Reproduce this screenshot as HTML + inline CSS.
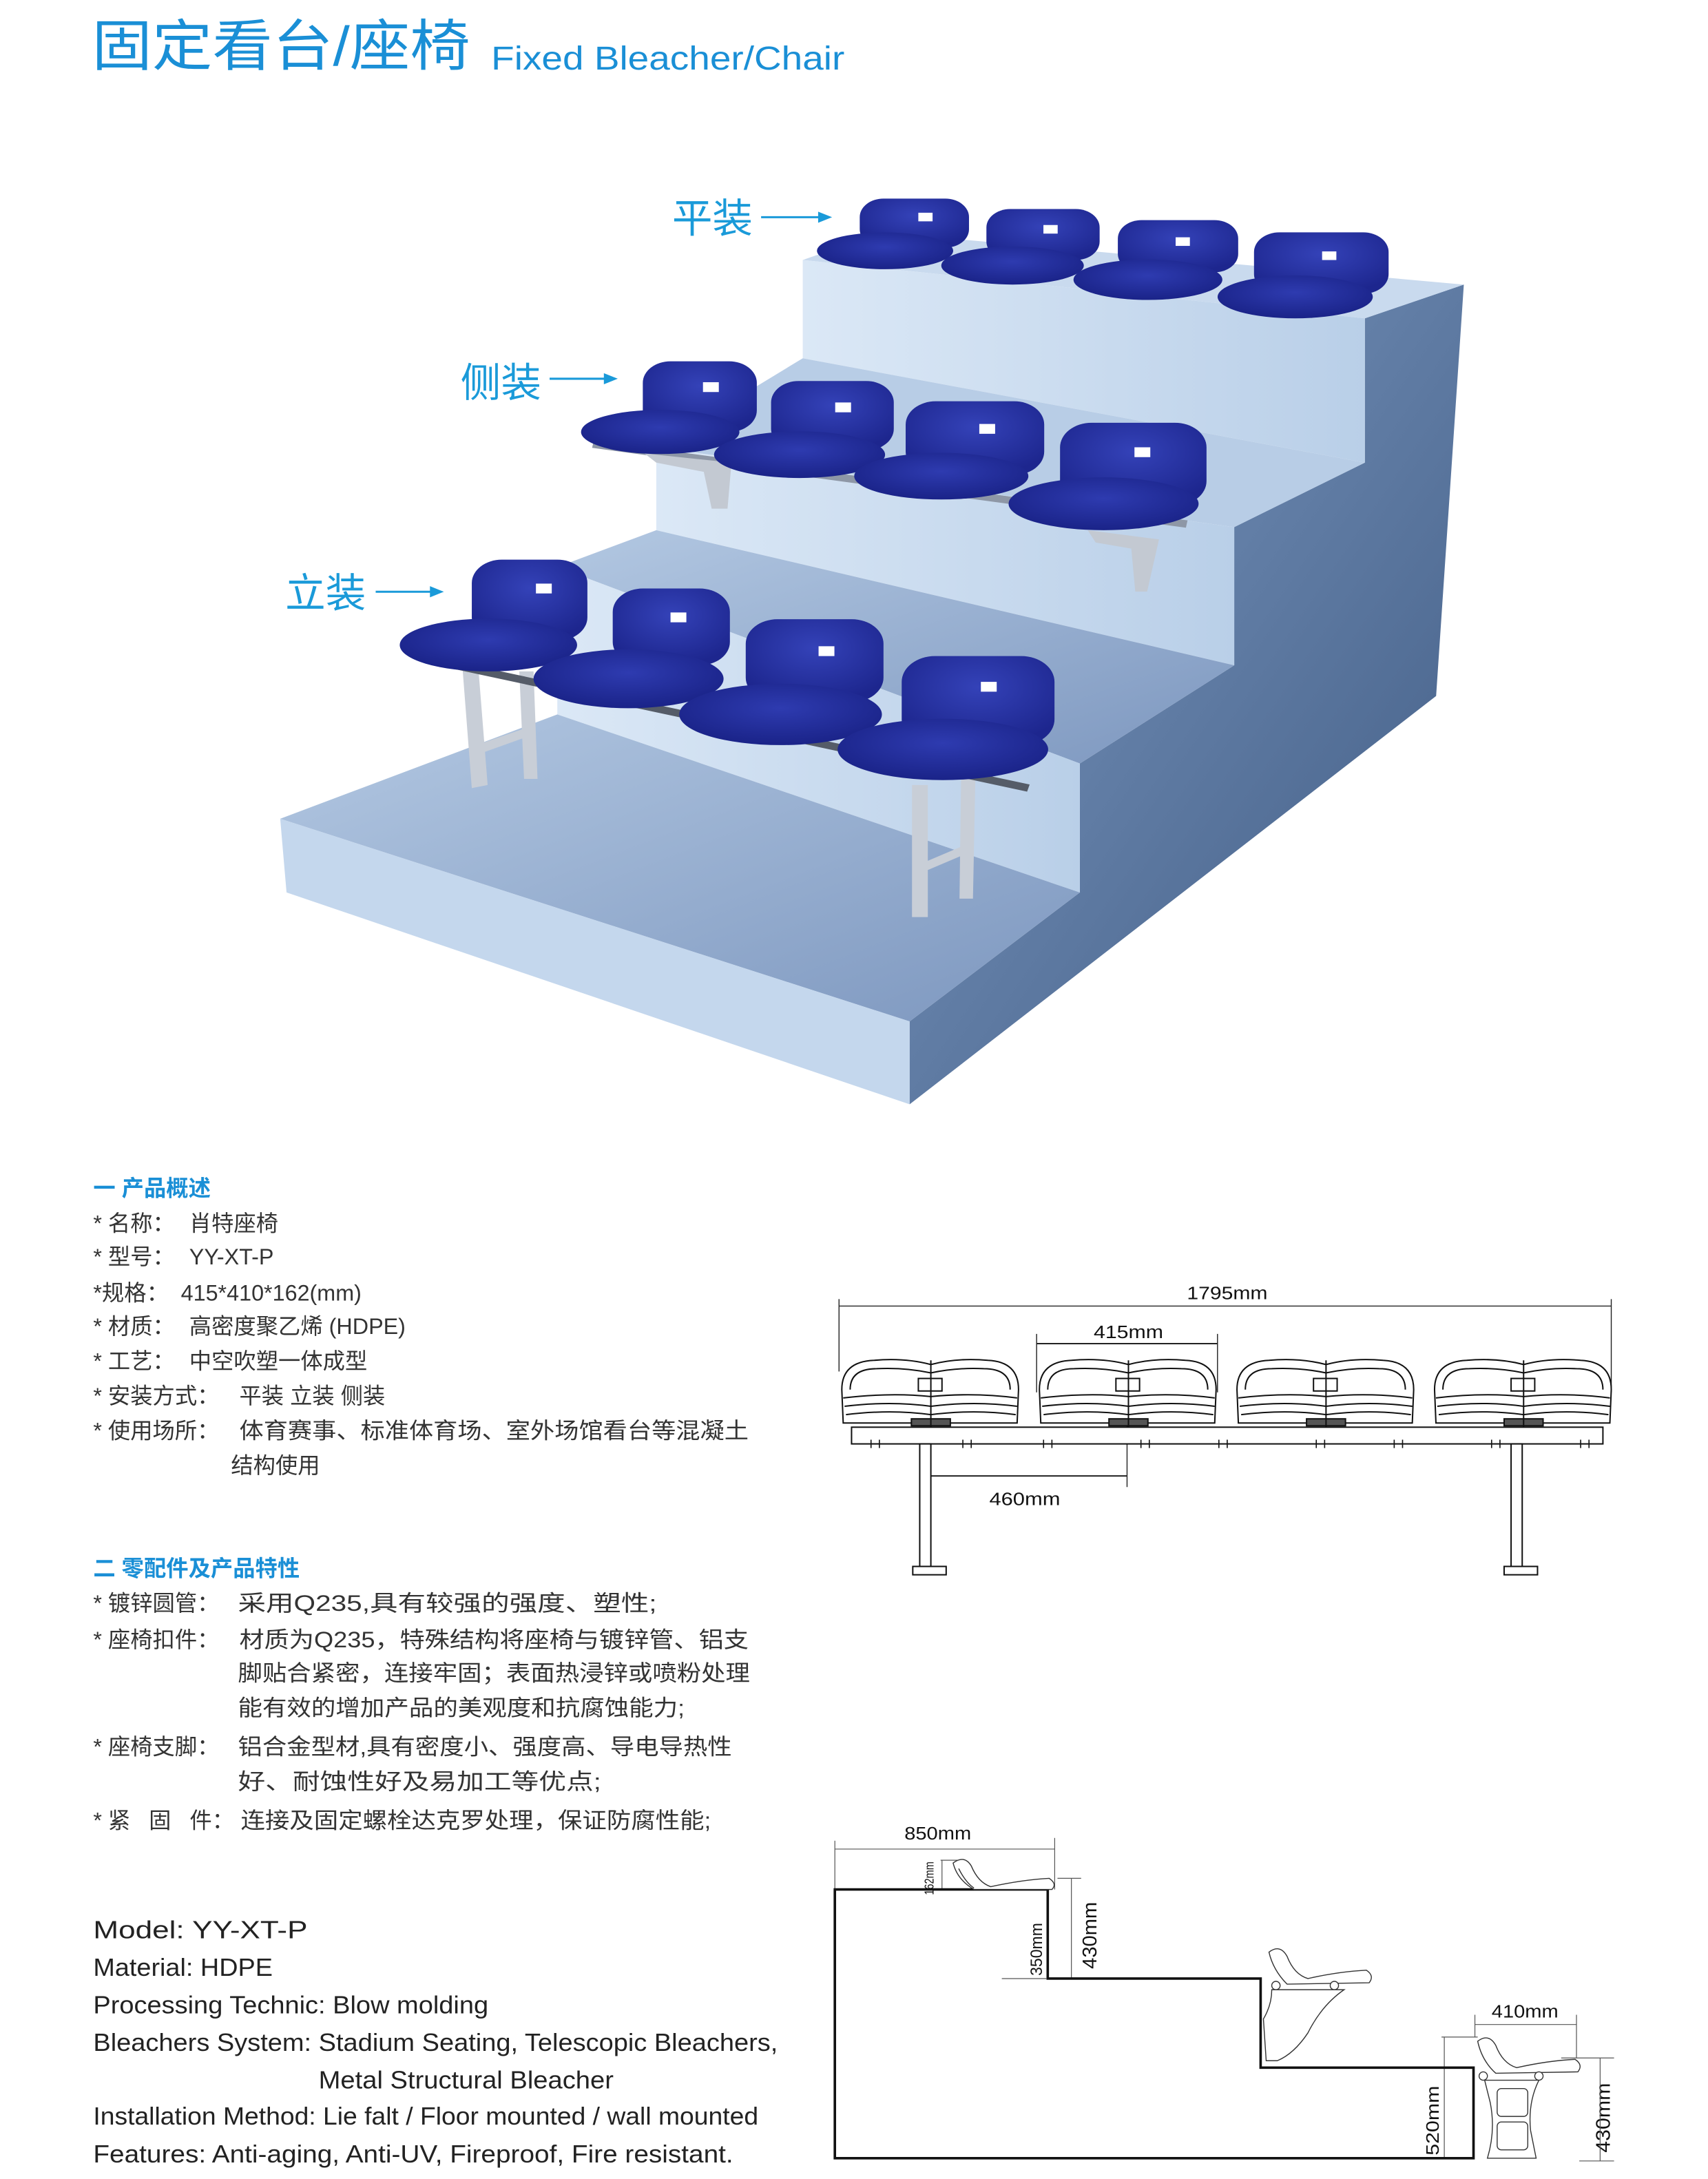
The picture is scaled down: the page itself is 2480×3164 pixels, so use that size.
<!DOCTYPE html>
<html><head><meta charset="utf-8"><style>
html,body{margin:0;padding:0;background:#fff;}
svg{display:block;}
</style></head><body>
<svg width="2480" height="3164" viewBox="0 0 1222 1559" preserveAspectRatio="none" xmlns="http://www.w3.org/2000/svg">
<defs>
<linearGradient id="side" x1="0" y1="0" x2="1" y2="1"><stop offset="0" stop-color="#7f9cc4"/><stop offset="1" stop-color="#3f5a82"/></linearGradient>
<linearGradient id="riser" x1="0" y1="0" x2="1" y2="0"><stop offset="0" stop-color="#dbe8f6"/><stop offset="1" stop-color="#b9cfe8"/></linearGradient>
<linearGradient id="tread" x1="0" y1="0" x2="1" y2="1"><stop offset="0" stop-color="#b3c8e2"/><stop offset="1" stop-color="#7d97bf"/></linearGradient>
<radialGradient id="pan" cx="0.5" cy="0.4" r="0.6"><stop offset="0" stop-color="#2e3bb0"/><stop offset="1" stop-color="#1a2388"/></radialGradient>
<radialGradient id="back" cx="0.5" cy="0.35" r="0.65"><stop offset="0" stop-color="#3442b8"/><stop offset="1" stop-color="#1d268e"/></radialGradient>
</defs>
<g transform="scale(0.9955,0.9962)">
<!-- Title -->
<text x="66" y="47" font-family="'Liberation Sans','Noto Sans CJK SC',sans-serif" font-size="40" fill="#1a8fd6" textLength="272" lengthAdjust="spacingAndGlyphs">固定看台/座椅</text>
<text x="353" y="50" font-family="'Liberation Sans',sans-serif" font-size="24" fill="#1a8fd6" textLength="254" lengthAdjust="spacingAndGlyphs">Fixed Bleacher/Chair</text>

<!-- 3D stairs -->
<g transform="translate(190,125) scale(0.569,0.441)">
 <polygon points="1390,235 1515,180 1480,850 815,1515 815,1380 1030,1170 1030,960 1225,800 1225,575 1390,470" fill="url(#side)"/>
 <polygon points="680,140 780,95 1515,180 1390,235" fill="#c9daee"/>
 <polygon points="680,140 1390,235 1390,470 680,300" fill="url(#riser)"/>
 <polygon points="495,445 680,300 1390,470 1225,575" fill="#b8cde6"/>
 <polygon points="495,445 1225,575 1225,800 495,580" fill="url(#riser)"/>
 <polygon points="370,640 495,580 1225,800 1030,960" fill="url(#tread)"/>
 <polygon points="370,640 1030,960 1030,1170 370,880" fill="url(#riser)"/>
 <polygon points="20,1050 370,880 1030,1170 815,1380" fill="url(#tread)"/>
 <polygon points="20,1050 815,1380 815,1515 28,1170" fill="#c4d7ed"/>

 <g>
  <rect x="752" y="40" width="138" height="80" rx="30" fill="url(#back)"/><ellipse cx="784" cy="125" rx="86" ry="30" fill="url(#pan)"/><rect x="826" y="63" width="18" height="14" fill="#fff"/>
  <rect x="912" y="57" width="143" height="83" rx="30" fill="url(#back)"/><ellipse cx="945" cy="149" rx="90" ry="31" fill="url(#pan)"/><rect x="984" y="83" width="18" height="14" fill="#fff"/>
  <rect x="1078" y="75" width="152" height="85" rx="30" fill="url(#back)"/><ellipse cx="1116" cy="172" rx="94" ry="33" fill="url(#pan)"/><rect x="1151" y="103" width="18" height="14" fill="#fff"/>
  <rect x="1250" y="95" width="170" height="100" rx="32" fill="url(#back)"/><ellipse cx="1302" cy="200" rx="98" ry="35" fill="url(#pan)"/><rect x="1336" y="126" width="18" height="14" fill="#fff"/>
 </g>
 <line x1="415" y1="440" x2="1165" y2="570" stroke="#8e97a6" stroke-width="12"/>
 <polygon points="480,455 590,470 585,545 565,545 555,485 495,470" fill="#c3c9d2"/>
 <polygon points="1040,580 1130,595 1115,680 1100,680 1095,610 1050,600" fill="#c3c9d2"/>
 <g>
  <rect x="478" y="305" width="144" height="115" rx="35" fill="url(#back)"/><ellipse cx="500" cy="420" rx="100" ry="36" fill="url(#pan)"/><rect x="554" y="339" width="20" height="16" fill="#fff"/>
  <rect x="640" y="337" width="155" height="113" rx="35" fill="url(#back)"/><ellipse cx="676" cy="457" rx="108" ry="38" fill="url(#pan)"/><rect x="721" y="372" width="20" height="16" fill="#fff"/>
  <rect x="810" y="370" width="175" height="120" rx="38" fill="url(#back)"/><ellipse cx="855" cy="492" rx="110" ry="38" fill="url(#pan)"/><rect x="903" y="407" width="20" height="16" fill="#fff"/>
  <rect x="1005" y="405" width="185" height="135" rx="40" fill="url(#back)"/><ellipse cx="1060" cy="537" rx="120" ry="43" fill="url(#pan)"/><rect x="1099" y="445" width="20" height="16" fill="#fff"/>
 </g>
 <g fill="#c8ced7">
  <polygon points="250,800 270,800 282,995 262,1000"/>
  <polygon points="322,810 340,810 345,985 328,985"/>
  <polygon points="268,930 335,900 335,915 270,945"/>
  <polygon points="818,995 838,995 838,1210 818,1210"/>
  <polygon points="880,985 898,985 895,1180 878,1180"/>
  <polygon points="835,1120 890,1090 890,1105 835,1135"/>
 </g>
 <line x1="240" y1="800" x2="965" y2="1000" stroke="#555c68" stroke-width="12"/>
 <g>
  <rect x="262" y="628" width="146" height="132" rx="38" fill="url(#back)"/><ellipse cx="283" cy="767" rx="112" ry="43" fill="url(#pan)"/><rect x="343" y="667" width="20" height="16" fill="#fff"/>
  <rect x="440" y="675" width="148" height="125" rx="38" fill="url(#back)"/><ellipse cx="460" cy="822" rx="120" ry="48" fill="url(#pan)"/><rect x="513" y="714" width="20" height="16" fill="#fff"/>
  <rect x="608" y="725" width="174" height="135" rx="40" fill="url(#back)"/><ellipse cx="652" cy="880" rx="128" ry="50" fill="url(#pan)"/><rect x="700" y="769" width="20" height="16" fill="#fff"/>
  <rect x="805" y="785" width="193" height="145" rx="42" fill="url(#back)"/><ellipse cx="857" cy="937" rx="133" ry="50" fill="url(#pan)"/><rect x="905" y="827" width="20" height="16" fill="#fff"/>
 </g>
</g>
<g font-family="'Liberation Sans','Noto Sans CJK SC',sans-serif" font-size="29" fill="#1a9ad9">
 <text x="483" y="167">平装</text>
 <text x="331" y="285">侧装</text>
 <text x="205" y="436">立装</text>
</g>
<g stroke="#1a9ad9" stroke-width="1.5" fill="#1a9ad9">
 <line x1="547" y1="156" x2="590" y2="156"/><polygon points="598,156 588,152 588,160" stroke="none"/>
 <line x1="395" y1="272" x2="436" y2="272"/><polygon points="444,272 434,268 434,276" stroke="none"/>
 <line x1="270" y1="425" x2="311" y2="425"/><polygon points="319,425 309,421 309,429" stroke="none"/>
</g>

<!-- Chinese text -->
<g font-family="'Liberation Sans','Noto Sans CJK SC',sans-serif" font-size="16" fill="#333">
 <text x="67" y="859" fill="#1a8fd6" font-weight="bold">一 产品概述</text>
 <text x="67" y="884">* 名称：</text><text x="136" y="884">肖特座椅</text>
 <text x="67" y="908">* 型号：</text><text x="136" y="908">YY-XT-P</text>
 <text x="67" y="934">*规格：</text><text x="130" y="934">415*410*162(mm)</text>
 <text x="67" y="958">* 材质：</text><text x="136" y="958">高密度聚乙烯 (HDPE)</text>
 <text x="67" y="983">* 工艺：</text><text x="136" y="983">中空吹塑一体成型</text>
 <text x="67" y="1008">* 安装方式：</text><text x="172" y="1008">平装 立装 侧装</text>
 <text x="67" y="1033">* 使用场所：</text><text x="172" y="1033" textLength="366" lengthAdjust="spacingAndGlyphs">体育赛事、标准体育场、室外场馆看台等混凝土</text>
 <text x="166" y="1058">结构使用</text>
 <text x="67" y="1132" fill="#1a8fd6" font-weight="bold">二 零配件及产品特性</text>
 <text x="67" y="1157">* 镀锌圆管：</text><text x="171" y="1157" textLength="301" lengthAdjust="spacingAndGlyphs">采用Q235,具有较强的强度、塑性;</text>
 <text x="67" y="1183">* 座椅扣件：</text><text x="172" y="1183" textLength="366" lengthAdjust="spacingAndGlyphs">材质为Q235，特殊结构将座椅与镀锌管、铝支</text>
 <text x="171" y="1207" textLength="368" lengthAdjust="spacingAndGlyphs">脚贴合紧密，连接牢固；表面热浸锌或喷粉处理</text>
 <text x="171" y="1232" textLength="321" lengthAdjust="spacingAndGlyphs">能有效的增加产品的美观度和抗腐蚀能力;</text>
 <text x="67" y="1260">* 座椅支脚：</text><text x="171" y="1260" textLength="355" lengthAdjust="spacingAndGlyphs">铝合金型材,具有密度小、强度高、导电导热性</text>
 <text x="171" y="1285" textLength="261" lengthAdjust="spacingAndGlyphs">好、耐蚀性好及易加工等优点;</text>
 <text x="67" y="1313" xml:space="preserve">* 紧   固   件：</text><text x="173" y="1313" textLength="338" lengthAdjust="spacingAndGlyphs">连接及固定螺栓达克罗处理，保证防腐性能;</text>
</g>

<!-- English text -->
<g font-family="'Liberation Sans',sans-serif" font-size="18" fill="#222">
 <text x="67" y="1392" textLength="154" lengthAdjust="spacingAndGlyphs">Model:  YY-XT-P</text>
 <text x="67" y="1419" textLength="129" lengthAdjust="spacingAndGlyphs">Material:  HDPE</text>
 <text x="67" y="1446" textLength="284" lengthAdjust="spacingAndGlyphs">Processing Technic: Blow molding</text>
 <text x="67" y="1473" textLength="492" lengthAdjust="spacingAndGlyphs">Bleachers System: Stadium Seating, Telescopic Bleachers,</text>
 <text x="229" y="1500" textLength="212" lengthAdjust="spacingAndGlyphs">Metal Structural Bleacher</text>
 <text x="67" y="1526" textLength="478" lengthAdjust="spacingAndGlyphs">Installation Method: Lie falt / Floor mounted / wall mounted</text>
 <text x="67" y="1553" textLength="460" lengthAdjust="spacingAndGlyphs">Features: Anti-aging, Anti-UV, Fireproof, Fire resistant.</text>
</g>

<!-- Front view drawing -->
<g font-family="'Liberation Sans',sans-serif" font-size="13" fill="#111">
 <text x="853" y="933" textLength="58" lengthAdjust="spacingAndGlyphs">1795mm</text>
 <text x="786" y="961" textLength="50" lengthAdjust="spacingAndGlyphs">415mm</text>
 <text x="711" y="1081" textLength="51" lengthAdjust="spacingAndGlyphs">460mm</text>
</g>
<g stroke="#222" stroke-width="0.7" fill="none">
 <line x1="603" y1="938" x2="1158" y2="938"/>
 <line x1="603" y1="933" x2="603" y2="985"/>
 <line x1="1158" y1="933" x2="1158" y2="1000"/>
 <line x1="745" y1="965" x2="875" y2="965" stroke-width="1"/>
 <line x1="745" y1="958" x2="745" y2="1000"/>
 <line x1="875" y1="958" x2="875" y2="1000"/>
 <line x1="667" y1="1060" x2="810" y2="1060" stroke-width="1"/>
 <line x1="810" y1="1000" x2="810" y2="1068"/>
</g>
<g stroke="#111" stroke-width="1" fill="none">
 <g id="fs">
  <path d="M606,1022 L605,998 Q605,978 628,977 Q650,975 669,980 Q688,975 710,977 Q732,978 732,998 L731,1022 Z" fill="#fff"/>
  <path d="M611,998 Q611,983 630,983 Q650,982 669,986 Q688,982 707,983 Q726,983 726,998"/>
  <path d="M606,1004 Q640,1000 669,1003 Q700,1000 731,1004"/>
  <path d="M607,1010 Q640,1006 669,1010 Q700,1006 731,1010"/>
  <path d="M608,1016 Q640,1012 669,1016 Q700,1012 730,1016"/>
  <rect x="660" y="990" width="17" height="9"/>
  <rect x="655" y="1019" width="28" height="5" fill="#555"/>
  <line x1="669" y1="977" x2="669" y2="1030"/>
 </g>
 <use href="#fs" x="142"/>
 <use href="#fs" x="284"/>
 <use href="#fs" x="426"/>
 <rect x="612" y="1025" width="540" height="12" fill="#fff"/>
 <g stroke-width="0.8">
  <path d="M626,1034 v6 M632,1034 v6 M626,1037 h6"/>
  <path d="M692,1034 v6 M698,1034 v6"/>
  <path d="M750,1034 v6 M756,1034 v6"/>
  <path d="M820,1034 v6 M826,1034 v6"/>
  <path d="M876,1034 v6 M882,1034 v6"/>
  <path d="M946,1034 v6 M952,1034 v6"/>
  <path d="M1002,1034 v6 M1008,1034 v6"/>
  <path d="M1072,1034 v6 M1078,1034 v6"/>
  <path d="M1136,1034 v6 M1142,1034 v6"/>
 </g>
 <rect x="661" y="1037" width="8" height="88" fill="#fff"/>
 <rect x="656" y="1125" width="24" height="6" fill="#fff"/>
 <rect x="1086" y="1037" width="8" height="88" fill="#fff"/>
 <rect x="1081" y="1125" width="24" height="6" fill="#fff"/>
</g>

<!-- Side view drawing -->
<g font-family="'Liberation Sans',sans-serif" fill="#111">
 <text x="650" y="1321" font-size="13" textLength="48" lengthAdjust="spacingAndGlyphs">850mm</text>
 <text x="1072" y="1449" font-size="13" textLength="48" lengthAdjust="spacingAndGlyphs">410mm</text>
 <text transform="translate(671,1361) rotate(-90)" font-size="9" textLength="24" lengthAdjust="spacingAndGlyphs">162mm</text>
 <text transform="translate(749,1419) rotate(-90)" font-size="12" textLength="38" lengthAdjust="spacingAndGlyphs">350mm</text>
 <text transform="translate(788,1414) rotate(-90)" font-size="14" textLength="48" lengthAdjust="spacingAndGlyphs">430mm</text>
 <text transform="translate(1034,1548) rotate(-90)" font-size="13" textLength="50" lengthAdjust="spacingAndGlyphs">520mm</text>
 <text transform="translate(1157,1546) rotate(-90)" font-size="14" textLength="50" lengthAdjust="spacingAndGlyphs">430mm</text>
</g>
<g stroke="#555" stroke-width="0.6" fill="none">
 <line x1="600" y1="1328" x2="758" y2="1328"/>
 <line x1="600" y1="1322" x2="600" y2="1357"/>
 <line x1="758" y1="1320" x2="758" y2="1357"/>
 <line x1="677" y1="1336" x2="677" y2="1357"/>
 <line x1="676" y1="1336" x2="690" y2="1336"/>
 <line x1="760" y1="1349" x2="777" y2="1349"/>
 <line x1="770" y1="1349" x2="770" y2="1421"/>
 <line x1="720" y1="1421" x2="752" y2="1421"/>
 <line x1="1060" y1="1454" x2="1133" y2="1454"/>
 <line x1="1060" y1="1447" x2="1060" y2="1463"/>
 <line x1="1133" y1="1447" x2="1133" y2="1478"/>
 <line x1="1036" y1="1463" x2="1062" y2="1463"/>
 <line x1="1038" y1="1463" x2="1038" y2="1550"/>
 <line x1="1122" y1="1478" x2="1160" y2="1478"/>
 <line x1="1150" y1="1478" x2="1150" y2="1552"/>
 <line x1="1135" y1="1552" x2="1160" y2="1552"/>
</g>
<path d="M600,1550 L600,1357 L753,1357 L753,1421 L906,1421 L906,1485 L1059,1485 L1059,1550 Z" fill="none" stroke="#111" stroke-width="1.8"/>
<g stroke="#333" stroke-width="0.7" fill="#fff">
 <path d="M685,1338 Q693,1332 698,1340 Q703,1352 712,1355 Q735,1350 754,1349 Q760,1353 756,1357 L700,1357 Q688,1350 685,1338 Z"/>
 <path d="M689,1342 Q694,1352 700,1356"/>
 <path d="M912,1402 Q920,1396 925,1405 Q930,1418 940,1421 Q962,1416 982,1415 Q988,1419 984,1424 L925,1425 Q915,1415 912,1402 Z"/>
 <circle cx="917" cy="1426" r="3"/><circle cx="959" cy="1426" r="3"/>
 <path d="M914,1429 L966,1429 Q950,1440 940,1460 Q930,1475 918,1480 L910,1480 L908,1450 Q914,1440 914,1429 Z"/>
 <path d="M1062,1466 Q1070,1460 1075,1469 Q1080,1482 1090,1485 Q1112,1480 1132,1479 Q1138,1483 1134,1488 L1075,1489 Q1065,1480 1062,1466 Z"/>
 <circle cx="1066" cy="1491" r="3"/><circle cx="1106" cy="1491" r="3"/>
 <path d="M1067,1494 L1106,1494 Q1098,1510 1100,1530 L1104,1550 L1069,1550 Q1075,1530 1071,1510 Z"/>
 <rect x="1076" y="1500" width="22" height="20" rx="3"/>
 <rect x="1076" y="1524" width="22" height="20" rx="3"/>
</g>
</g>
</svg>
</body></html>
